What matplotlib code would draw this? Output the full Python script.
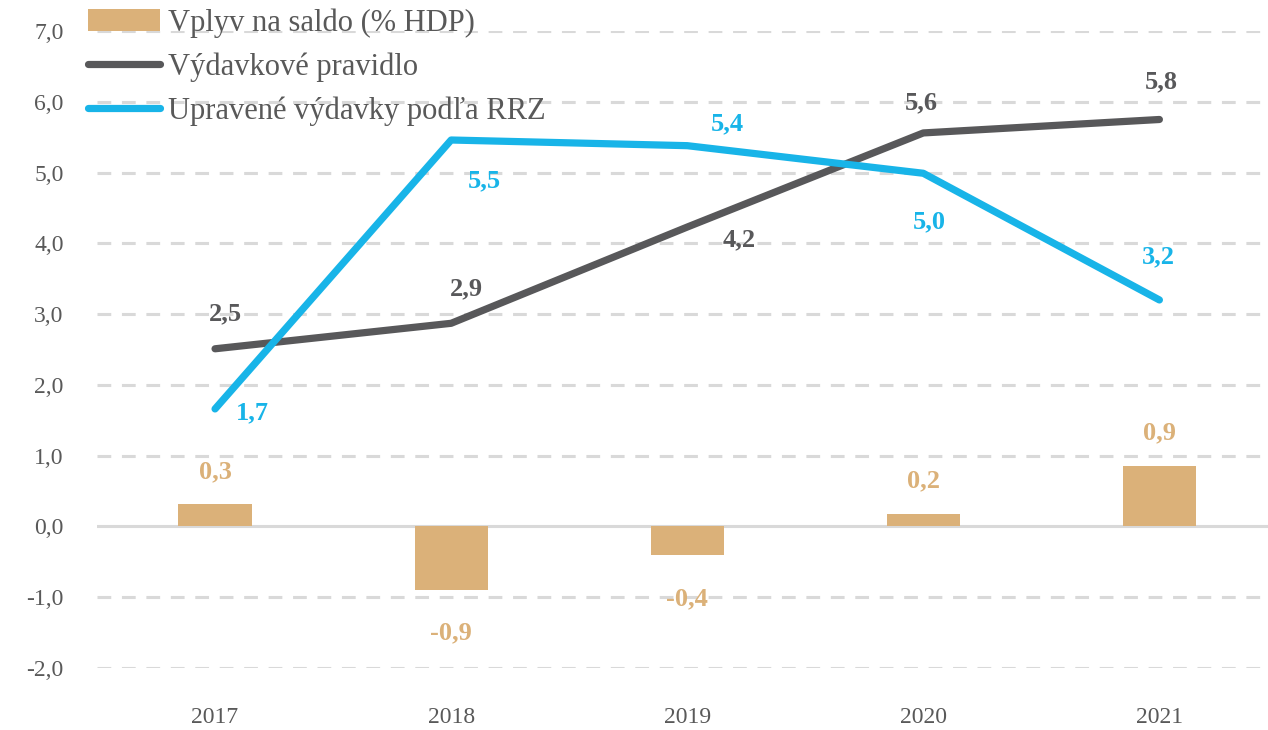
import matplotlib
matplotlib.use("Agg")
import matplotlib.pyplot as plt
import numpy as np

# ── Data ───────────────────────────────────────────────────────────────────────
years = ["2017", "2018", "2019", "2020", "2021"]
saldo = [0.31, -0.90, -0.41, 0.18, 0.86]          # Vplyv na saldo (% HDP)
pravidlo = [2.51, 2.87, 4.23, 5.56, 5.75]          # Výdavkové pravidlo
rrz = [1.66, 5.46, 5.38, 4.99, 3.20]               # Upravené výdavky podľa RRZ

series_names = ["Vplyv na saldo (% HDP)", "Výdavkové pravidlo",
                "Upravené výdavky podľa RRZ"]

# ── Style ──────────────────────────────────────────────────────────────────────
C_BAR = "#DBB179"
C_GRAY = "#58585A"
C_CYAN = "#18B4E8"
C_GRID = "#D9D9D9"
C_TEXT = "#595959"

plt.rcParams["font.family"] = ["Liberation Serif", "DejaVu Serif"]

def fmt(v):
    return f"{v:.1f}".replace(".", ",")

fig = plt.figure(figsize=(12.68, 7.30), dpi=100)
ax = fig.add_axes([0.0765, 0.085, 0.9235, 0.8725])

x = np.arange(len(years))

# grid
for yv in range(-2, 8):
    if yv == 0:
        ax.axhline(0, color=C_GRID, lw=2.2, zorder=1)
    else:
        ax.axhline(yv, color=C_GRID, lw=2.2, ls=(0, (4.5, 3.5)), zorder=1)

ax.bar(x, saldo, width=0.31, color=C_BAR, zorder=2, label=series_names[0])
ax.plot(x, pravidlo, color=C_GRAY, lw=5.2, solid_capstyle="round",
        zorder=3, label=series_names[1])
ax.plot(x, rrz, color=C_CYAN, lw=5.2, solid_capstyle="round",
        zorder=4, label=series_names[2])

ax.set_xlim(-0.5, 4.46)
ax.set_ylim(-2, 7)
ax.set_yticks(range(-2, 8))
ax.set_yticklabels([fmt(v) for v in range(-2, 8)])
ax.set_xticks(x)
ax.set_xticklabels(years)
ax.tick_params(length=0, labelsize=17, colors=C_TEXT)
ax.tick_params(axis="x", pad=28)
ax.tick_params(axis="y", pad=24)
for s in ax.spines.values():
    s.set_visible(False)

# ── Data labels (offsets in pixels → points) ──────────────────────────────────
k = 0.72
lab_kw = dict(textcoords="offset points", ha="center", va="center",
              fontsize=19, fontweight="bold")

for xi, v in zip(x, saldo):
    off = 33 if v >= 0 else -43
    ax.annotate(fmt(v), (xi, v), xytext=(0, off * k), color=C_BAR, **lab_kw)

gray_off = [(10, 35), (15, 34), (52, -13), (-2, 30), (2, 38)]
for xi, v, (dx, dy) in zip(x, pravidlo, gray_off):
    ax.annotate(fmt(v), (xi, v), xytext=(dx * k, dy * k), color=C_GRAY, **lab_kw)

cyan_off = [(37, -4), (33, -41), (40, 22), (6, -49), (-1, 43)]
for xi, v, (dx, dy) in zip(x, rrz, cyan_off):
    ax.annotate(fmt(v), (xi, v), xytext=(dx * k, dy * k), color=C_CYAN, **lab_kw)

handles, labels = ax.get_legend_handles_labels()
order = [labels.index(n) for n in series_names]
leg = ax.legend([handles[i] for i in order], [labels[i] for i in order],
                loc="upper left", bbox_to_anchor=(-0.018, 1.055), frameon=False,
                fontsize=22, handlelength=2.35, handleheight=0.7,
                handletextpad=0.26, labelspacing=0.48, borderaxespad=0)
for t in leg.get_texts():
    t.set_color(C_TEXT)

fig.savefig("out.png", dpi=100)
